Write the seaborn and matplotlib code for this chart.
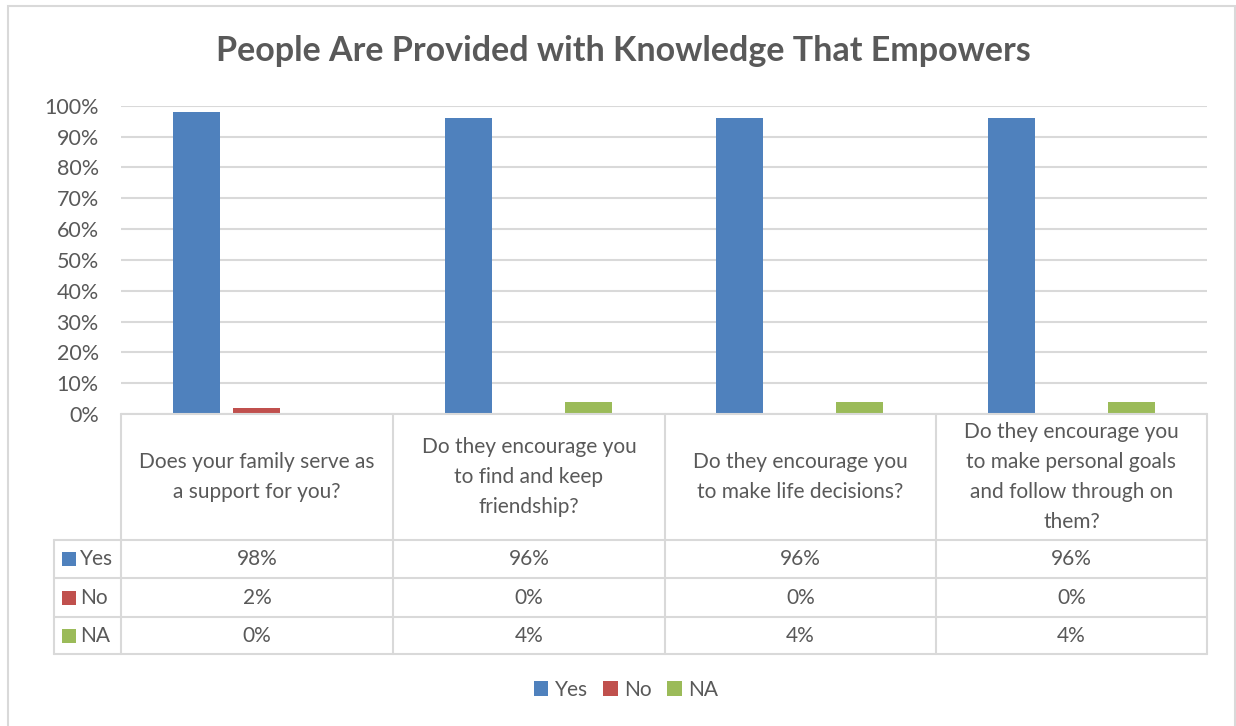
import matplotlib
matplotlib.use("Agg")
import matplotlib.pyplot as plt
from matplotlib.patches import Rectangle
from matplotlib.ticker import PercentFormatter, MultipleLocator
from matplotlib.lines import Line2D
import seaborn as sns
import pandas as pd

# Survey data
questions = [
    "Does your family serve as\na support for you?",
    "Do they encourage you\nto find and keep\nfriendship?",
    "Do they encourage you\nto make life decisions?",
    "Do they encourage you\nto make personal goals\nand follow through on\nthem?",
]
answers = ["Yes", "No", "NA"]
yes_vals = [0.98, 0.96, 0.96, 0.96]
no_vals = [0.02, 0.00, 0.00, 0.00]
na_vals = [0.00, 0.04, 0.04, 0.04]
colors = ["#4F81BD", "#C0504D", "#9BBB59"]

title = "People Are Provided with Knowledge That Empowers"

series = {"Yes": yes_vals, "No": no_vals, "NA": na_vals}
rows = []
for ans in answers:
    for q, v in zip(questions, series[ans]):
        rows.append({"question": q, "answer": ans, "share": v})
df = pd.DataFrame(rows)

sns.set_theme(style="white")
FONT = "Lato"
plt.rcParams["font.family"] = [FONT, "DejaVu Sans"]
TXT = "#595959"
GRID = "#D9D9D9"
FS = 15

W, H = 1236, 726
fig = plt.figure(figsize=(W / 100, H / 100), dpi=100)
fig.patch.set_facecolor("white")


def fx(px):
    return px / W


def fy(py):
    return 1 - py / H


# plot area in pixel coordinates
L, R, T, B = 121, 1207, 105.7, 414
ax = fig.add_axes([fx(L), fy(B), fx(R) - fx(L), fy(T) - fy(B)])

sns.barplot(
    data=df, x="question", y="share", hue="answer",
    order=questions, hue_order=answers, palette=colors,
    width=0.662, gap=0.217, dodge=True, ax=ax, legend=True,
    edgecolor="none", saturation=1,
)

ax.set_ylim(0, 1)
ax.set_xlim(-0.5, len(questions) - 0.5)
ax.yaxis.set_major_locator(MultipleLocator(0.1))
ax.yaxis.set_major_formatter(PercentFormatter(1.0, decimals=0))
ax.grid(axis="y", color=GRID, linewidth=1.5)
ax.set_axisbelow(True)
for s in ["left", "right", "top", "bottom"]:
    ax.spines[s].set_visible(False)
ax.set_xticks([])
ax.set_xlabel("")
ax.set_ylabel("")
ax.tick_params(axis="y", length=0, pad=16, labelsize=15.5, labelcolor=TXT)
for lbl in ax.get_yticklabels():
    lbl.set_horizontalalignment("right")

handles, labels = ax.get_legend_handles_labels()
ax.get_legend().remove()

# chart title
fig.text(fx(623), fy(51), title, ha="center", va="center",
         fontsize=24.5, fontweight="bold", color=TXT)

# data table under the plot area
col_edges = [121, 393, 665, 936, 1207]
row_edges = [540, 578, 617, 654]
lw = 1.5


def hline(x0, x1, y):
    fig.add_artist(Line2D([fx(x0), fx(x1)], [fy(y), fy(y)], color=GRID, lw=lw))


def vline(x, y0, y1):
    fig.add_artist(Line2D([fx(x), fx(x)], [fy(y0), fy(y1)], color=GRID, lw=lw))


hline(L, R, B)
for y in row_edges:
    hline(54, R, y)
for x in col_edges:
    vline(x, B, row_edges[-1])
vline(54, row_edges[0], row_edges[-1])

for i, q in enumerate(questions):
    cx = (col_edges[i] + col_edges[i + 1]) / 2
    fig.text(fx(cx), fy(477), q, ha="center", va="center", fontsize=FS,
             color=TXT, linespacing=1.63)

for r, ans in enumerate(answers):
    cy = (row_edges[r] + row_edges[r + 1]) / 2
    fig.add_artist(Rectangle((fx(62), fy(cy + 7)), fx(14), 14 / H,
                             facecolor=colors[r], edgecolor="none"))
    fig.text(fx(80), fy(cy), ans, ha="left", va="center", fontsize=FS, color=TXT)
    for i, v in enumerate(series[ans]):
        cx = (col_edges[i] + col_edges[i + 1]) / 2
        fig.text(fx(cx), fy(cy), f"{v:.0%}", ha="center", va="center",
                 fontsize=FS, color=TXT)

# legend below the table
leg = fig.legend(handles, labels, loc="center", bbox_to_anchor=(fx(626), fy(690)),
                 ncol=3, frameon=False, fontsize=FS, handlelength=0.7,
                 handleheight=0.7, handletextpad=0.3, columnspacing=0.75)
for t in leg.get_texts():
    t.set_color(TXT)

# chart border
fig.add_artist(Rectangle((fx(8), fy(H + 5)), fx(1227), (H - 1) / H,
                         facecolor="none", edgecolor=GRID, lw=1.5))

fig.savefig("out.png", dpi=100)
